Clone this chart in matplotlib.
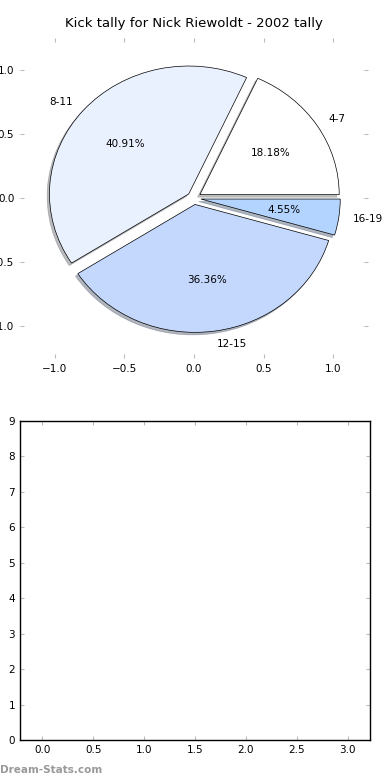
import matplotlib
matplotlib.use('Agg')
import matplotlib.pyplot as plt

labels = ['4-7', '8-11', '12-15', '16-19']
counts = [4, 9, 8, 1]
colors = ['#ffffff', '#eaf1fe', '#c4d8fe', '#b3d4ff']
explode = [0.05, 0.05, 0.05, 0.05]

tick_color = '#bbbbbb'

fig = plt.figure(figsize=(3.9, 7.8), dpi=100)

# pie on top, old style (no equal aspect, frame off but ticks kept)
ax1 = fig.add_axes([0.051, 0.541, 0.893, 0.410])
wedges, texts, autotexts = ax1.pie(counts, labels=labels, colors=colors, explode=explode,
                                   autopct='%1.2f%%', startangle=0,
                                   shadow={'ox': -0.012, 'oy': -0.014, 'shade': 0.5},
                                   wedgeprops={'edgecolor': 'black', 'linewidth': 0.5},
                                   textprops={'fontsize': 7.5})
ax1.set_aspect('auto')
ax1.set_xlim(-1.25, 1.25)
ax1.set_ylim(-1.25, 1.25)
ax1.set_frame_on(False)
ax1.set_xticks([-1.0, -0.5, 0.0, 0.5, 1.0])
ax1.set_yticks([-1.0, -0.5, 0.0, 0.5, 1.0])
ax1.tick_params(direction='in', length=3, color=tick_color, labelsize=7.5,
                top=True, right=True, pad=4)
ax1.set_title('Kick tally for Nick Riewoldt - 2002 tally', fontsize=9.5, pad=8)

# empty axes below
ax2 = fig.add_axes([0.051, 0.0513, 0.898, 0.409])
ax2.set_xlim(-0.22, 3.22)
ax2.set_ylim(0, 9)
ax2.set_xticks([0.0, 0.5, 1.0, 1.5, 2.0, 2.5, 3.0])
ax2.set_yticks(range(0, 10))
ax2.tick_params(direction='in', length=3, color=tick_color, labelsize=7.5,
                top=True, right=True)
for s in ax2.spines.values():
    s.set_linewidth(1.0)

fig.text(0.0, 0.006, 'Dream-Stats.com', fontsize=7.5, color='#999999', fontweight='bold',
         ha='left', va='bottom')

fig.savefig('out.png', dpi=100)
